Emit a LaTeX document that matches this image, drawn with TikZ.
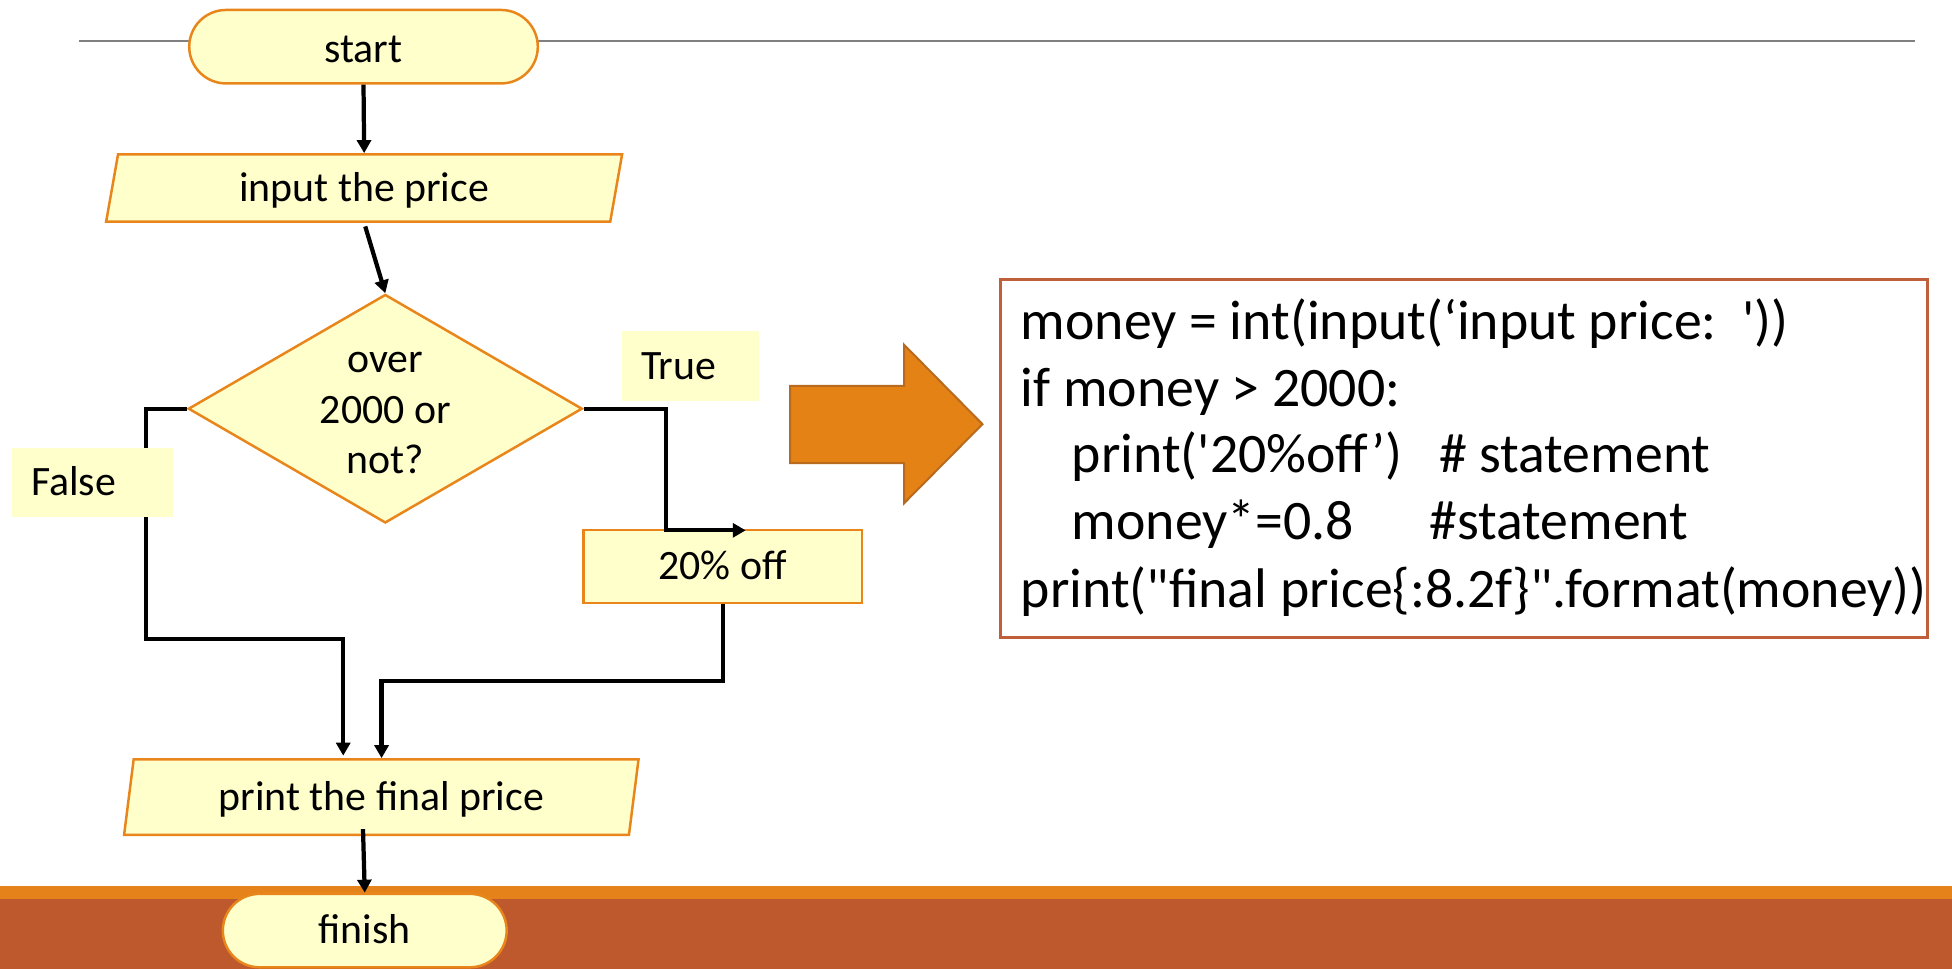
\documentclass[tikz,border=0pt]{standalone}
\usepackage{fontspec}
\setmainfont{Carlito}
\newfontfamily\codefam{Carlito}[Ligatures=TeXOff]
\usetikzlibrary{shapes.geometric,arrows.meta,calc}
\definecolor{nodefill}{HTML}{FFFFCC}
\definecolor{nodeline}{HTML}{E8861C}
\definecolor{barorange}{HTML}{E5821A}
\definecolor{barbrown}{HTML}{BE582D}
\definecolor{codeline}{HTML}{C0603A}
\definecolor{bigarrow}{HTML}{E48216}
\definecolor{bigarrowline}{HTML}{B86A1E}
\definecolor{rule}{HTML}{808080}
\newcommand\flowfont{\fontsize{16.8pt}{20.25pt}\selectfont}
\newcommand\codefont{\codefam\fontsize{22.4pt}{26.9pt}\selectfont}
\begin{document}
\begin{tikzpicture}[x=0.5pt,y=-0.5pt,
  flow/.style={draw=nodeline, fill=nodefill, line width=1pt, font=\flowfont, inner sep=0pt, text height=10.5pt, text depth=0pt},
  term/.style={flow, rectangle, rounded corners=14.75pt, minimum width=140pt, minimum height=29.5pt},
  para/.style={flow, trapezium, trapezium left angle=77, trapezium right angle=103, trapezium stretches=true, minimum width=207.5pt, minimum height=27pt},
  conn/.style={line width=1.7pt, -{Triangle[length=5.2pt,width=5.6pt]}},
  lbl/.style={fill=nodefill, font=\flowfont, inner xsep=7.5pt, inner ysep=0pt, align=left, text height=10.5pt, text depth=0pt},
  codeln/.style={anchor=base west, inner sep=0pt, font=\codefont},
]
\useasboundingbox (0,0) rectangle (1568,778);
% bottom band
\fill[barorange] (0,712) rectangle (1568,722.5);
\fill[barbrown] (0,722.5) rectangle (1568,778);
% top rule
\draw[rule, line width=0.9pt] (63.8,32.7) -- (1538,32.7);

% flowchart nodes
\node[term, text height=12.5pt] (start) at (292,37.5) {start};
\node[para] (input) at (292.5,151) {input the price};
\node[flow, diamond, aspect=1.724, minimum width=158.25pt, minimum height=91.8pt] (dia) at (309.5,328.3) {};
\node[font=\flowfont, align=center, inner sep=0pt] (diatext) at ($(dia.center)+(0,3.7)$) {over\\2000 or\\not?};
\node[flow, rectangle, minimum width=111.75pt, minimum height=29.3pt] (off) at (580.5,455) {20\% off};
\node[para, minimum width=207pt, minimum height=30.3pt, trapezium left angle=76.5, trapezium right angle=103.5] (print) at (306.3,640.3) {print the final price};
\node[term, minimum width=114pt, minimum height=29.5pt] (finish) at (293,747.5) {finish};

% connectors
\coordinate (tip20) at (599,426);
\coordinate (in1) at (275.7,607);
\coordinate (in2) at (306.5,609);
\coordinate (pf) at (291.6,666);
\draw[conn] (start.south) -- (input.north);
\draw[conn, shorten <=1.5pt] (input.south) -- (dia.north);
\draw[conn] (dia.east) -| (535,426) -- (tip20);
\draw[conn] (dia.west) -| (117.5,513) -| (in1);
\draw[conn] (off.south) |- (306.5,546.8) -- (in2);
\draw[conn] (pf) -- (finish.north);

% branch labels
\node[lbl, text width=40pt, minimum height=28pt] (true) at (555,294) {True};
\node[lbl, text width=49.5pt, minimum height=27.75pt] (false) at (74.5,387.3) {False};

% big arrow
\draw[fill=bigarrow, draw=bigarrowline, line width=0.8pt]
  (634.7,310) -- (726.3,310) -- (726.3,277) -- (789.2,340.7) -- (726.3,404.2) -- (726.3,372) -- (634.7,372) -- cycle;

% code box
\node[draw=codeline, line width=1.2pt, fill=white, minimum width=372pt, minimum height=143.85pt, inner sep=0pt] (code) at (1176,368.2) {};
\node[codeln] (c1) at (819.7,272.4) {money = int(input(‘input price:\ \ '))};
\node[codeln] (c2) at (819.7,326.2) {if money > 2000:};
\node[codeln] (c3) at (860.6,379.8) {\makebox[147.5pt][l]{print('20\%off’)}\# statement};
\node[codeln] (c4) at (860.6,433.4) {\makebox[143.6pt][l]{money*=0.8}\#statement};
\node[codeln] (c5) at (819.7,488.2) {print("final price\{:8.2f\}".format(money))};
\end{tikzpicture}
\end{document}
